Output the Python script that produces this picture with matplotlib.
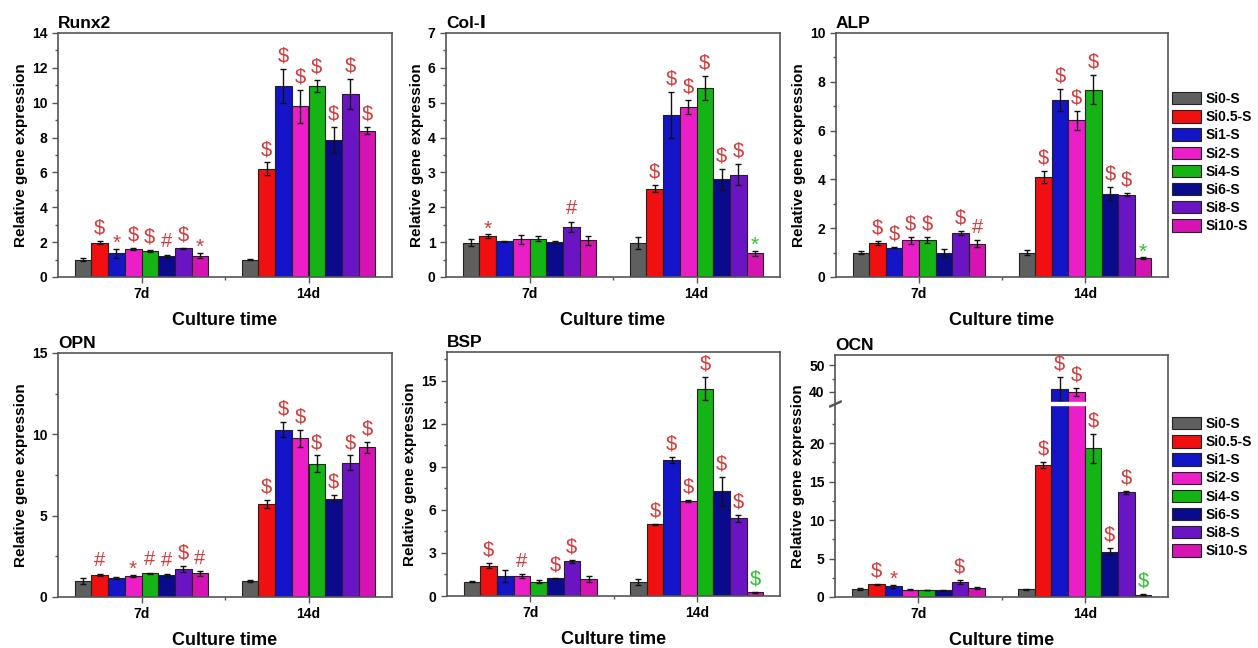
import numpy as np
import matplotlib
matplotlib.use('Agg')
import matplotlib.pyplot as plt
from matplotlib.patches import Patch
from matplotlib.ticker import MultipleLocator, FixedLocator

plt.rcParams['font.family'] = ['Liberation Sans', 'DejaVu Sans', 'Noto Sans CJK SC']
plt.rcParams['font.weight'] = 'bold'

# ---- data ----
samples = ['Si0-S', 'Si0.5-S', 'Si1-S', 'Si2-S', 'Si4-S', 'Si6-S', 'Si8-S', 'Si10-S']
days = ['7d', '14d']
colors = ['#5f5f5f', '#f01010', '#1414c8', '#ec1ec8', '#14b414', '#0a0a8c', '#6a14c4', '#d614b4']

# 'G' prefix = green mark, otherwise red
runx2_7d = [1.0, 1.97, 1.35, 1.6, 1.48, 1.22, 1.65, 1.22]
runx2_7d_err = [0.08, 0.1, 0.28, 0.05, 0.05, 0.05, 0.04, 0.15]
runx2_7d_sig = ['', '$', '*', '$', '$', '#', '$', '*']
runx2_14d = [1.0, 6.22, 10.97, 9.8, 10.97, 7.85, 10.5, 8.4]
runx2_14d_err = [0.05, 0.35, 0.97, 0.95, 0.35, 0.75, 0.88, 0.2]
runx2_14d_sig = ['', '$', '$', '$', '$', '$', '$', '$']

col1_7d = [0.98, 1.17, 1.02, 1.08, 1.1, 1.0, 1.43, 1.05]
col1_7d_err = [0.1, 0.05, 0.02, 0.12, 0.08, 0.02, 0.15, 0.13]
col1_7d_sig = ['', '*', '', '', '', '', '#', '']
col1_14d = [0.98, 2.53, 4.65, 4.87, 5.43, 2.8, 2.93, 0.68]
col1_14d_err = [0.17, 0.1, 0.65, 0.2, 0.35, 0.3, 0.3, 0.07]
col1_14d_sig = ['', '$', '$', '$', '$', '$', '$', 'G*']

alp_7d = [1.0, 1.38, 1.2, 1.5, 1.5, 0.98, 1.82, 1.37]
alp_7d_err = [0.05, 0.08, 0.03, 0.15, 0.12, 0.15, 0.08, 0.13]
alp_7d_sig = ['', '$', '$', '$', '$', '', '$', '#']
alp_14d = [1.0, 4.1, 7.27, 6.42, 7.67, 3.42, 3.38, 0.77]
alp_14d_err = [0.1, 0.23, 0.45, 0.38, 0.6, 0.27, 0.08, 0.03]
alp_14d_sig = ['', '$', '$', '$', '$', '$', '$', 'G*']

opn_7d = [1.0, 1.35, 1.15, 1.28, 1.45, 1.35, 1.7, 1.45]
opn_7d_err = [0.18, 0.07, 0.05, 0.07, 0.05, 0.07, 0.18, 0.15]
opn_7d_sig = ['', '#', '', '*', '#', '#', '$', '#']
opn_14d = [1.0, 5.72, 10.28, 9.75, 8.2, 6.05, 8.25, 9.2]
opn_14d_err = [0.05, 0.22, 0.45, 0.5, 0.5, 0.22, 0.45, 0.35]
opn_14d_sig = ['', '$', '$', '$', '$', '$', '$', '$']

bsp_7d = [1.0, 2.12, 1.4, 1.38, 1.0, 1.22, 2.42, 1.2]
bsp_7d_err = [0.05, 0.18, 0.4, 0.15, 0.1, 0.05, 0.1, 0.2]
bsp_7d_sig = ['', '$', '', '#', '', '$', '$', '']
bsp_14d = [0.95, 5.0, 9.5, 6.62, 14.45, 7.3, 5.4, 0.25]
bsp_14d_err = [0.2, 0.05, 0.2, 0.05, 0.8, 1.0, 0.25, 0.05]
bsp_14d_sig = ['', '$', '$', '$', '$', '$', '$', 'G$']

ocn_7d = [1.0, 1.65, 1.4, 0.95, 0.9, 0.88, 1.9, 1.2]
ocn_7d_err = [0.15, 0.1, 0.2, 0.05, 0.05, 0.05, 0.25, 0.1]
ocn_7d_sig = ['', '$', '*', '', '', '', '$', '']
ocn_14d = [1.0, 17.2, 41.0, 40.0, 19.3, 5.9, 13.6, 0.3]
ocn_14d_err = [0.1, 0.4, 4.5, 1.5, 1.9, 0.45, 0.15, 0.05]
ocn_14d_sig = ['', '$', '$', '$', '$', '$', '$', 'G$']

RED = '#d03c3c'
GREEN = '#32c032'
SPINE = '#555555'
W = 0.1


def draw_panel(ax, title, m7, e7, s7, m14, e14, s14):
    for d, (m, e, s) in enumerate([(m7, e7, s7), (m14, e14, s14)]):
        xs = d + (np.arange(8) - 3.5) * W
        ax.bar(xs, m, width=W, color=colors, edgecolor='#222222', linewidth=0.8, zorder=2)
        ax.errorbar(xs, m, yerr=e, fmt='none', ecolor='#111111', elinewidth=1,
                    capsize=2.5, capthick=1, zorder=3)
        for x, v, er, mark in zip(xs, m, e, s):
            if not mark:
                continue
            c = RED
            if mark.startswith('G'):
                c, mark = GREEN, mark[1:]
            fs = 14.5 if mark != '*' else 15
            off = 2.5 if mark != '*' else -3
            ax.annotate(mark, (x, v + er), xytext=(0, off), textcoords='offset points',
                        ha='center', va='bottom', color=c, fontsize=fs,
                        fontweight='normal', zorder=4)
    ax.set_xlim(-0.5, 1.5)
    ax.set_xticks([0, 1])
    ax.set_xticklabels(days)
    ax.xaxis.set_minor_locator(FixedLocator([0.5]))
    ax.set_xlabel('Culture time', fontsize=13, fontweight='bold', labelpad=8)
    ax.set_ylabel('Relative gene expression', fontsize=11, fontweight='bold', labelpad=3)
    ax.text(0.0, 1.01, title, transform=ax.transAxes, ha='left', va='bottom',
            fontsize=12.5, fontweight='bold')
    for sp in ax.spines.values():
        sp.set_color(SPINE)
        sp.set_linewidth(1.2)
    ax.tick_params(axis='both', which='major', direction='out', length=4, width=1,
                   color=SPINE, labelsize=10)
    ax.tick_params(axis='both', which='minor', direction='out', length=2.5, width=1, color=SPINE)
    ax.tick_params(axis='x', labelsize=10, pad=3)


fig = plt.figure(figsize=(12.58, 6.48), dpi=100)
H = 1258.0
V = 648.0


def add_ax(x0, x1, y0, y1):
    return fig.add_axes([x0 / H, 1 - y1 / V, (x1 - x0) / H, (y1 - y0) / V])


ax1 = add_ax(58, 392, 33, 277)
ax2 = add_ax(446, 780, 33, 277)
ax3 = add_ax(836, 1168, 33, 277)
ax4 = add_ax(58, 392, 353, 597)
ax5 = add_ax(447, 780, 352, 596)
ax6 = add_ax(835, 1168, 355, 597)

draw_panel(ax1, 'Runx2', runx2_7d, runx2_7d_err, runx2_7d_sig, runx2_14d, runx2_14d_err, runx2_14d_sig)
ax1.set_ylim(0, 14)
ax1.yaxis.set_major_locator(MultipleLocator(2))
ax1.yaxis.set_minor_locator(MultipleLocator(1))

draw_panel(ax2, 'Col-\u2160', col1_7d, col1_7d_err, col1_7d_sig, col1_14d, col1_14d_err, col1_14d_sig)
ax2.set_ylim(0, 7)
ax2.yaxis.set_major_locator(MultipleLocator(1))
ax2.yaxis.set_minor_locator(MultipleLocator(0.5))

draw_panel(ax3, 'ALP', alp_7d, alp_7d_err, alp_7d_sig, alp_14d, alp_14d_err, alp_14d_sig)
ax3.set_ylim(0, 10)
ax3.yaxis.set_major_locator(MultipleLocator(2))
ax3.yaxis.set_minor_locator(MultipleLocator(1))

draw_panel(ax4, 'OPN', opn_7d, opn_7d_err, opn_7d_sig, opn_14d, opn_14d_err, opn_14d_sig)
ax4.set_ylim(0, 15)
ax4.yaxis.set_major_locator(MultipleLocator(5))
ax4.yaxis.set_minor_locator(MultipleLocator(2.5))

draw_panel(ax5, 'BSP', bsp_7d, bsp_7d_err, bsp_7d_sig, bsp_14d, bsp_14d_err, bsp_14d_sig)
ax5.set_ylim(0, 17)
ax5.yaxis.set_major_locator(MultipleLocator(3))
ax5.yaxis.set_minor_locator(MultipleLocator(1.5))


# broken y axis for OCN: 0-25 linear, 25-36 squeezed, above 36 compressed
def ocn_fwd(y):
    y = np.asarray(y, dtype=float)
    return np.where(y <= 25, y, np.where(y < 36, 25 + (y - 25) * 0.03, 25.33 + (y - 36) * 0.34))


def ocn_inv(t):
    t = np.asarray(t, dtype=float)
    return np.where(t <= 25, t, np.where(t < 25.33, 25 + (t - 25) / 0.03, 36 + (t - 25.33) / 0.34))


ax6.set_yscale('function', functions=(ocn_fwd, ocn_inv))
draw_panel(ax6, 'OCN', ocn_7d, ocn_7d_err, ocn_7d_sig, ocn_14d, ocn_14d_err, ocn_14d_sig)
ax6.set_ylim(0, 54)
ax6.yaxis.set_major_locator(FixedLocator([0, 5, 10, 15, 20, 40, 50]))
ax6.yaxis.set_minor_locator(FixedLocator([2.5, 7.5, 12.5, 17.5, 22.5, 45]))
ax6.yaxis.set_major_formatter(matplotlib.ticker.FormatStrFormatter('%d'))
ax6.yaxis.set_minor_formatter(matplotlib.ticker.NullFormatter())
ax6.axhspan(24.9, 36.2, xmin=0.01, xmax=0.99, color='white', zorder=3.5)
ax6.plot([0, 0], [27, 33], transform=ax6.get_yaxis_transform(), clip_on=False,
         linestyle='none', marker=[(-1, -0.45), (1, 0.45)], markersize=9,
         markeredgecolor=SPINE, markeredgewidth=1.1, zorder=5)

# legends
handles = [Patch(facecolor=c, edgecolor='#222222', linewidth=0.8) for c in colors]
for top in (92, 417):
    fig.legend(handles, samples, loc='upper left', bbox_to_anchor=(1172 / H, 1 - top / V),
               frameon=False, handlelength=2.1, handleheight=1.0,
               labelspacing=0.3, handletextpad=0.35, borderaxespad=0, borderpad=0,
               prop={'weight': 'bold', 'size': 10})

fig.savefig('out.png', dpi=100)
